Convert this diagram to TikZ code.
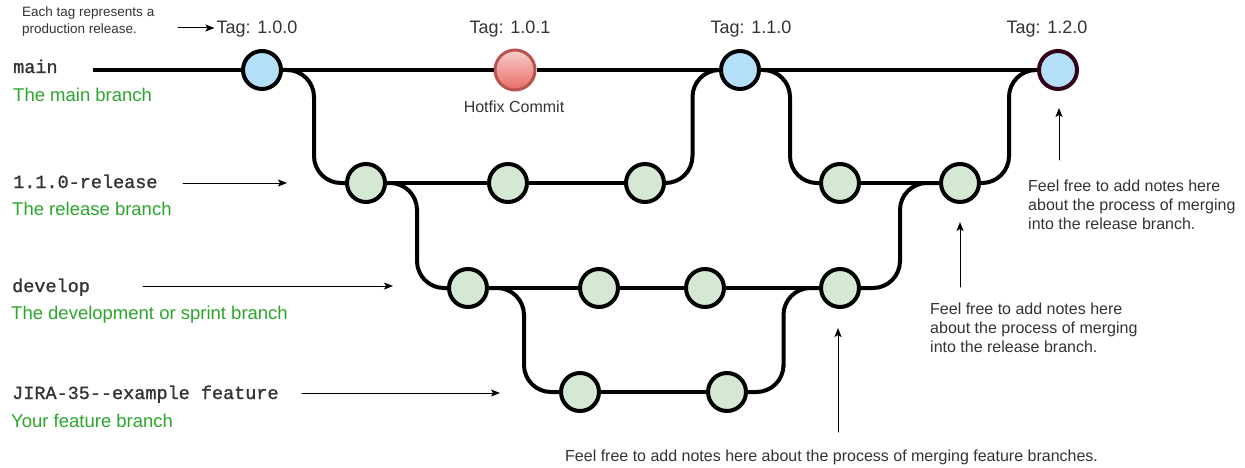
\documentclass[tikz,border=0pt]{standalone}
\usepackage{fontspec}
\setmainfont{Liberation Sans}
\setmonofont{Liberation Mono}
\newfontfamily\branchmono{Liberation Mono}[FakeBold=1.2]
\usetikzlibrary{arrows.meta,calc}
\definecolor{tagblue}{HTML}{B3DFF8}
\definecolor{commitgreen}{HTML}{D5E8D4}
\definecolor{hotfixtop}{HTML}{F8CECC}
\definecolor{hotfixbottom}{HTML}{EA6B66}
\definecolor{hotfixline}{HTML}{B85450}
\definecolor{tagline}{HTML}{33001A}
\definecolor{notegray}{HTML}{333333}
\definecolor{branchgreen}{HTML}{2CA52C}
\begin{document}
\begin{tikzpicture}[x=1pt,y=-1pt,line join=round,line cap=round,>={Stealth[length=9pt,width=7pt,inset=2pt]},
	commit/.style={circle,draw=black,line width=4pt,minimum size=38pt,inner sep=0pt,fill=commitgreen},
	tagcommit/.style={commit,fill=tagblue},
	branch/.style={line width=4pt,rounded corners=27pt,line cap=butt},
	pointer/.style={->,line width=1pt},
	note/.style={text=notegray,font=\fontsize{16}{19}\selectfont,align=left,inner sep=0pt},
	tagtext/.style={text=notegray,font=\fontsize{18}{21}\selectfont,inner sep=0pt,anchor=base},
	branchname/.style={text=notegray,font=\fontsize{18.5}{22}\selectfont\branchmono,inner sep=0pt,anchor=base west},
	branchdesc/.style={text=branchgreen,font=\fontsize{18.5}{22}\selectfont,inner sep=0pt,anchor=base west}]
	\useasboundingbox (0,0) rectangle (1245,468);
	
	\node[tagcommit] (m1) at (262,70) {};
	\node[commit,shade,top color=hotfixtop,bottom color=hotfixbottom,draw=hotfixline,line width=3pt,minimum size=40pt] (m2) at (515,70) {};
	\node[tagcommit] (m3) at (740,70) {};
	\node[tagcommit,draw=tagline] (m4) at (1058,70) {};
	
	\node[commit] (r1) at (366,183) {};
	\node[commit] (r2) at (508,183) {};
	\node[commit] (r3) at (645,183) {};
	\node[commit] (r4) at (840,183) {};
	\node[commit] (r5) at (960,183) {};
	
	\node[commit] (d1) at (468,288) {};
	\node[commit] (d2) at (599,288) {};
	\node[commit] (d3) at (705,288) {};
	\node[commit] (d4) at (840,288) {};
	
	\node[commit] (f1) at (580,392) {};
	\node[commit] (f2) at (727,392) {};
	
	\coordinate (mainstart) at (93,70);
	\draw[branch] (mainstart) -- (m1) -- (m2) -- (m3) -- (m4);
	\draw[branch] (r1) -- (r2) -- (r3);
	\draw[branch] (r4) -- (r5);
	\draw[branch] (d1) -- (d2) -- (d3) -- (d4);
	\draw[branch] (f1) -- (f2);
	
	\draw[branch] (m1.east) -| ($(m1.east)!.5!(r1.west)$) |- (r1.west);
	\draw[branch] (r1.east) -| ($(r1.east)!.5!(d1.west)$) |- (d1.west);
	\draw[branch] (d1.east) -| ($(d1.east)!.5!(f1.west)$) |- (f1.west);
	\draw[branch] (f2.east) -| ($(f2.east)!.5!(d4.west)$) |- (d4.west);
	\draw[branch] (d4.east) -| ($(d4.east)!.5!(r5.west)$) |- (r5.west);
	\draw[branch] (r3.east) -| ($(r3.east)!.5!(m3.west)$) |- (m3.west);
	\draw[branch] (m3.east) -| ($(m3.east)!.5!(r4.west)$) |- (r4.west);
	\draw[branch] (r5.east) -| ($(r5.east)!.5!(m4.west)$) |- (m4.west);
	
	\node[tagtext] (t1) at (257,34) {Tag: 1.0.0};
	\node[tagtext] (t2) at (510,34) {Tag: 1.0.1};
	\node[tagtext] (t3) at (751,34) {Tag: 1.1.0};
	\node[tagtext] (t4) at (1047,34) {Tag: 1.2.0};
	\node[tagtext,font=\fontsize{16}{19}\selectfont] (hotfix) at (514,113) {Hotfix Commit};
	
	\node[note,font=\fontsize{13.5}{17}\selectfont,anchor=north west] (intro) at (22,7) {Each tag represents a\\production release.};
	\coordinate (introfrom) at (178,28);
	\draw[pointer,shorten >=2pt] (introfrom) -- (introfrom -| t1.west);
	
	\node[branchname] (mainname) at (13,73) {main};
	\node[branchdesc] (maindesc) at (13,102) {The main branch};
	\node[branchname] (relname) at (13,188) {1.1.0-release};
	\node[branchdesc] (reldesc) at (12,215) {The release branch};
	\node[branchname] (devname) at (12,292) {develop};
	\node[branchdesc] (devdesc) at (11,319) {The development or sprint branch};
	\node[branchname] (featname) at (12,399) {JIRA-35-{}-example feature};
	\node[branchdesc] (featdesc) at (11,427) {Your feature branch};
	
	\coordinate (relfrom) at (183,183);
	\coordinate (relto) at (287,183);
	\coordinate (devfrom) at (143,286);
	\coordinate (devto) at (393,286);
	\coordinate (featfrom) at (302,393);
	\coordinate (featto) at (500,393);
	\draw[pointer] (relfrom) -- (relto);
	\draw[pointer] (devfrom) -- (devto);
	\draw[pointer] (featfrom) -- (featto);
	
	\node[note,anchor=north west] (tagnote) at (1028,180) {Feel free to add notes here\\about the process of merging\\into the release branch.};
	\node[note,anchor=north west] (relnote) at (930,303) {Feel free to add notes here\\about the process of merging\\into the release branch.};
	\node[note,anchor=base west] (featnote) at (565,461) {Feel free to add notes here about the process of merging feature branches.};
	
	\coordinate (tagnotefrom) at (1059,160);
	\coordinate (tagnoteto) at (1059,108);
	\coordinate (relnotefrom) at (960,287);
	\coordinate (relnoteto) at (960,222);
	\coordinate (featnotefrom) at (838,432);
	\coordinate (featnoteto) at (838,328);
	\draw[pointer] (tagnotefrom) -- (tagnoteto);
	\draw[pointer] (relnotefrom) -- (relnoteto);
	\draw[pointer] (featnotefrom) -- (featnoteto);
\end{tikzpicture}
\end{document}
